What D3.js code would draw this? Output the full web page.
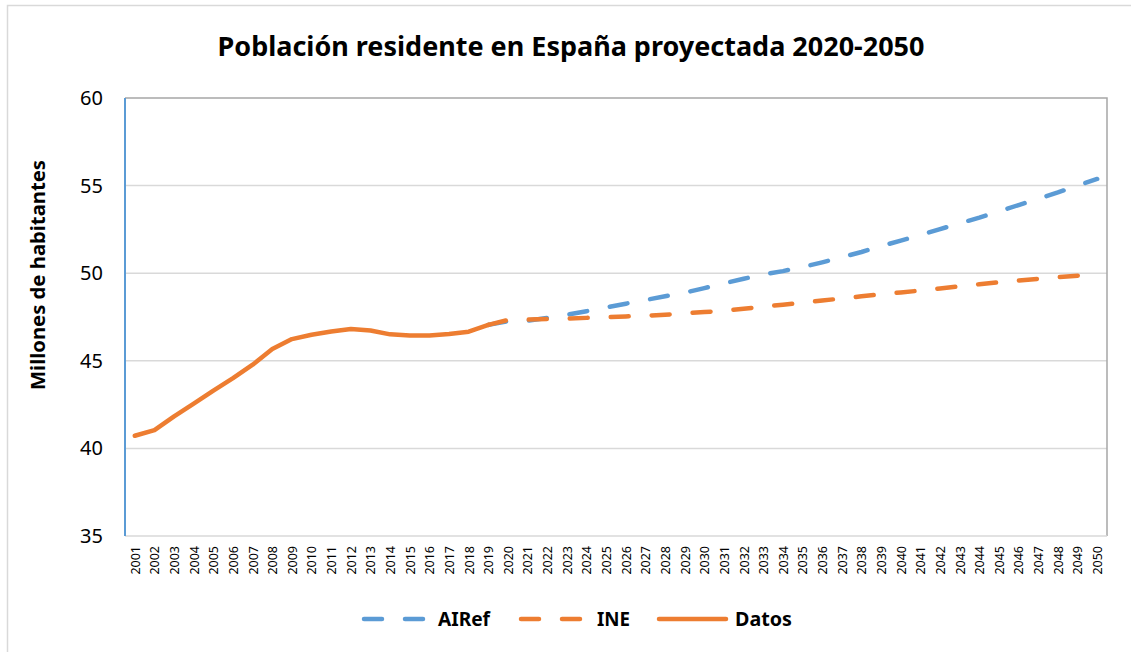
<!DOCTYPE html>
<html>
<head>
<meta charset="utf-8">
<script src="https://cdn.jsdelivr.net/npm/d3@7"></script>
<style>
  html, body { margin: 0; padding: 0; background: #fff; }
  svg { display: block; }
  text { font-family: "Noto Sans", "Open Sans", sans-serif; fill: #000; }
</style>
</head>
<body>
<svg id="chart" width="1131" height="652"></svg>
<script>
// ---------- DATA ----------
const years = d3.range(2001, 2051).map(String);
const datosYears = ["2001","2002","2003","2004","2005","2006","2007","2008","2009","2010",
  "2011","2012","2013","2014","2015","2016","2017","2018","2019"];
const datosValues = [40.72,41.04,41.83,42.55,43.30,44.01,44.78,45.67,46.24,46.49,
  46.67,46.82,46.73,46.51,46.45,46.44,46.53,46.66,47.05];
const projYears = ["2019","2020","2021","2022","2023","2024","2025","2026","2027","2028","2029",
  "2030","2031","2032","2033","2034","2035","2036","2037","2038","2039","2040",
  "2041","2042","2043","2044","2045","2046","2047","2048","2049","2050"];
const airefValues = [47.05,47.27,47.29,47.45,47.63,47.83,48.05,48.26,48.47,48.68,48.89,
  49.15,49.42,49.68,49.93,50.12,50.35,50.62,50.91,51.21,51.55,51.86,
  52.18,52.52,52.85,53.17,53.53,53.89,54.25,54.61,55.00,55.38];
const ineValues = [47.05,47.33,47.35,47.38,47.41,47.45,47.49,47.53,47.57,47.63,47.71,
  47.78,47.86,47.97,48.09,48.20,48.32,48.44,48.56,48.68,48.80,48.90,
  49.01,49.13,49.25,49.37,49.48,49.58,49.68,49.77,49.86,49.94];
const yTicks = [35,40,45,50,55,60];
const seriesNames = ["AIRef","INE","Datos"];
const titleText = "Población residente en España proyectada 2020-2050";
const yAxisTitle = "Millones de habitantes";

// ---------- LAYOUT ----------
const svg = d3.select("#chart");
const W = 1131, H = 652;
const plot = {left: 125, right: 1107, top: 98, bottom: 536};
const BLUE = "#5B9BD5", ORANGE = "#ED7D31";

function fit(sel, target) {
  const n = sel.node();
  const fs = parseFloat(sel.attr("font-size"));
  const w = n.getComputedTextLength();
  if (w > 0) sel.attr("font-size", (fs * target / w).toFixed(2));
  return sel;
}

// chart outer border
svg.append("rect").attr("x", 7.5).attr("y", 5.5).attr("width", W + 20).attr("height", H + 20)
  .attr("fill", "#fff").attr("stroke", "#D9D9D9").attr("stroke-width", 1.5);

const x = d3.scalePoint().domain(years).range([plot.left, plot.right]).padding(0.5);
const y = d3.scaleLinear().domain([35, 60]).range([plot.bottom, plot.top]);

// gridlines
svg.append("g").selectAll("line").data(yTicks.filter(t => t > 35 && t < 60)).join("line")
  .attr("x1", plot.left).attr("x2", plot.right)
  .attr("y1", d => y(d)).attr("y2", d => y(d))
  .attr("stroke", "#D9D9D9").attr("stroke-width", 1.5);

// plot area border (top & right)
svg.append("path")
  .attr("d", `M${plot.left},${plot.top}H${plot.right}V${plot.bottom}`)
  .attr("fill", "none").attr("stroke", "#A6A6A6").attr("stroke-width", 1.5);

// bottom axis line
svg.append("line").attr("x1", plot.left).attr("x2", plot.right)
  .attr("y1", plot.bottom).attr("y2", plot.bottom)
  .attr("stroke", "#D9D9D9").attr("stroke-width", 1.5);

// left axis line (blue)
svg.append("line").attr("x1", plot.left).attr("x2", plot.left)
  .attr("y1", plot.top).attr("y2", plot.bottom)
  .attr("stroke", BLUE).attr("stroke-width", 2);

// y tick labels
const yAx = d3.axisLeft(y).tickValues(yTicks).tickSize(0).tickPadding(22).tickFormat(d3.format("d"));
const gy = svg.append("g").attr("transform", `translate(${plot.left},0)`).call(yAx);
gy.select(".domain").remove();
gy.selectAll("text").attr("font-size", 20).attr("font-family", "Noto Sans").attr("fill", "#000");

// x tick labels
const xAx = d3.axisBottom(x).tickSize(0).tickPadding(0);
const gx = svg.append("g").attr("transform", `translate(0,${plot.bottom})`).call(xAx);
gx.select(".domain").remove();
gx.selectAll("text")
  .attr("font-size", 12.5).attr("font-family", "Noto Sans").attr("fill", "#000")
  .attr("transform", "rotate(-90)")
  .attr("x", -10).attr("y", 0).attr("dy", "0.35em")
  .attr("text-anchor", "end");

// lines
const line = d3.line().x(d => x(d[0])).y(d => y(d[1]));
const DASH = "18 23";
svg.append("path").datum(d3.zip(projYears, airefValues)).attr("d", line)
  .attr("fill", "none").attr("stroke", BLUE).attr("stroke-width", 4.5)
  .attr("stroke-linecap", "round").attr("stroke-linejoin", "round").attr("stroke-dasharray", DASH);
svg.append("path").datum(d3.zip(projYears, ineValues)).attr("d", line)
  .attr("fill", "none").attr("stroke", ORANGE).attr("stroke-width", 4.5)
  .attr("stroke-linecap", "round").attr("stroke-linejoin", "round").attr("stroke-dasharray", DASH);
svg.append("path").datum(d3.zip(datosYears, datosValues)).attr("d", line)
  .attr("fill", "none").attr("stroke", ORANGE).attr("stroke-width", 4.5)
  .attr("stroke-linecap", "round").attr("stroke-linejoin", "round");

// title
const t = svg.append("text").attr("x", 571).attr("y", 56).attr("text-anchor", "middle")
  .attr("font-size", 24).attr("font-weight", "bold").text(titleText);
fit(t, 707);

// y axis title
const yt = svg.append("text").attr("transform", "translate(45,275) rotate(-90)")
  .attr("text-anchor", "middle").attr("font-size", 17).attr("font-weight", "bold").text(yAxisTitle);
fit(yt, 230);

// legend
const legend = [
  {name: seriesNames[0], color: BLUE, dash: DASH, x1: 364, x2: 427, tx: 438, tw: 52},
  {name: seriesNames[1], color: ORANGE, dash: DASH, x1: 521, x2: 585, tx: 597, tw: 33},
  {name: seriesNames[2], color: ORANGE, dash: null, x1: 659, x2: 726, tx: 735, tw: 57}
];
const lg = svg.append("g");
legend.forEach(l => {
  lg.append("line").attr("x1", l.x1).attr("x2", l.x2).attr("y1", 619).attr("y2", 619)
    .attr("stroke", l.color).attr("stroke-width", 4.5).attr("stroke-linecap", "round")
    .attr("stroke-dasharray", l.dash);
  const tt = lg.append("text").attr("x", l.tx).attr("y", 619).attr("dy", "0.35em")
    .attr("font-size", 18).attr("font-weight", "bold").text(l.name);
  fit(tt, l.tw);
});
</script>
</body>
</html>
